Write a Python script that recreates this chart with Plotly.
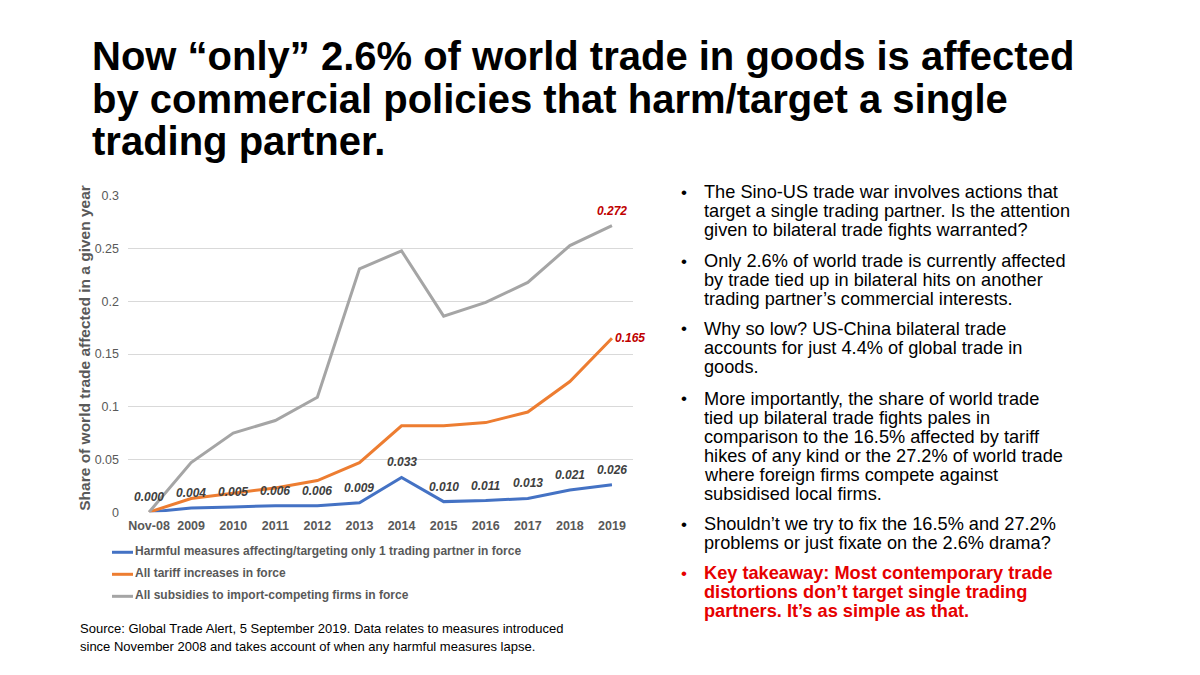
import plotly.graph_objects as go

categories = ["Nov-08", "2009", "2010", "2011", "2012", "2013", "2014", "2015", "2016", "2017", "2018", "2019"]
single_partner = [0.000, 0.004, 0.005, 0.006, 0.006, 0.009, 0.033, 0.010, 0.011, 0.013, 0.021, 0.026]
tariffs = [0.000, 0.013, 0.018, 0.023, 0.030, 0.047, 0.082, 0.082, 0.085, 0.095, 0.124, 0.165]
subsidies = [0.000, 0.047, 0.075, 0.087, 0.109, 0.231, 0.248, 0.186, 0.199, 0.218, 0.253, 0.272]
y_ticks = [0, 0.05, 0.1, 0.15, 0.2, 0.25, 0.3]
y_tick_labels = ["0", "0.05", "0.1", "0.15", "0.2", "0.25", "0.3"]
series_names = [
    "Harmful measures affecting/targeting only 1 trading partner in force",
    "All tariff increases in force",
    "All subsidies to import-competing firms in force",
]
series_colors = ["#4472C4", "#ED7D31", "#A5A5A5"]

title_lines = [
    "Now \u201conly\u201d 2.6% of world trade in goods is affected",
    "by commercial policies that harm/target a single",
    "trading partner.",
]
bullets = [
    ["The Sino-US trade war involves actions that",
     "target a single trading partner. Is the attention",
     "given to bilateral trade fights warranted?"],
    ["Only 2.6% of world trade is currently affected",
     "by trade tied up in bilateral hits on another",
     "trading partner\u2019s commercial interests."],
    ["Why so low? US-China bilateral trade",
     "accounts for just 4.4% of global trade in",
     "goods."],
    ["More importantly, the share of world trade",
     "tied up bilateral trade fights pales in",
     "comparison to the 16.5% affected by tariff",
     "hikes of any kind or the 27.2% of world trade",
     "where foreign firms compete against",
     "subsidised local firms."],
    ["Shouldn\u2019t we try to fix the 16.5% and 27.2%",
     "problems or just fixate on the 2.6% drama?"],
    ["Key takeaway: Most contemporary trade",
     "distortions don\u2019t target single trading",
     "partners. It\u2019s as simple as that."],
]
source_lines = [
    "Source: Global Trade Alert, 5 September 2019. Data relates to measures introduced",
    "since November 2008 and takes account of when any harmful measures lapse.",
]

# figure sized to fit inside the 1200x675 window with the page's 8px body margin
OFF = 8
W, H = 1184, 656
FONT = "Liberation Sans, Arial, sans-serif"


def px(x):
    return (x - OFF) / W


def py(y):
    return 1 - (y - OFF) / H


def ty(y, size):
    # visual centre of a text line -> annotation middle
    return py(y - 0.14 * size)


fig = go.Figure()
for name, vals, col in zip(series_names, [single_partner, tariffs, subsidies], series_colors):
    fig.add_trace(go.Scatter(x=categories, y=vals, mode="lines", name=name,
                             line=dict(color=col, width=3), showlegend=False,
                             hoverinfo="x+y"))

ann = []
# blue data labels
for i, v in enumerate(single_partner):
    ann.append(dict(x=i, y=v, xref="x", yref="y", text=f"<b><i>{v:.3f}</i></b>", showarrow=False,
                    yshift=15, font=dict(family=FONT, size=12, color="#404040"),
                    xanchor="center", yanchor="middle"))
n = len(categories) - 1
# red end labels
ann.append(dict(x=n, y=subsidies[-1], xref="x", yref="y",
                text=f"<b><i>{subsidies[-1]:.3f}</i></b>", showarrow=False, yshift=15,
                font=dict(family=FONT, size=12, color="#C00000"), xanchor="center", yanchor="middle"))
ann.append(dict(x=n, y=tariffs[-1], xref="x", yref="y",
                text=f"<b><i>{tariffs[-1]:.3f}</i></b>", showarrow=False, xshift=1, yshift=0,
                font=dict(family=FONT, size=12, color="#C00000"), xanchor="left", yanchor="middle"))

# y-axis title
ann.append(dict(x=px(85), y=py(348), xref="paper", yref="paper", textangle=-90,
                text="<b>Share of world trade affected in a given year</b>", showarrow=False,
                font=dict(family=FONT, size=15.5, color="#595959"), xanchor="center", yanchor="middle"))

# title
TS = 40
for i, yy in enumerate([56, 99, 142]):
    ann.append(dict(x=px(90), y=ty(yy, TS), xref="paper", yref="paper", text=f"<b>{title_lines[i]}</b>",
                    showarrow=False, font=dict(family=FONT, size=TS, color="#000000"),
                    xanchor="left", yanchor="middle"))

# legend (manual)
shapes = []
legend_y = [557, 579.5, 602]
for name, col, yy in zip(series_names, series_colors, legend_y):
    shapes.append(dict(type="line", xref="paper", yref="paper", x0=px(112), x1=px(133),
                       y0=py(yy), y1=py(yy), line=dict(color=col, width=3)))
    ann.append(dict(x=px(133), y=ty(yy, 12), xref="paper", yref="paper", text=f"<b>{name}</b>",
                    showarrow=False, font=dict(family=FONT, size=12, color="#595959"),
                    xanchor="left", yanchor="middle"))

# source
SS = 13.0
for i, t in enumerate(source_lines):
    ann.append(dict(x=px(78), y=ty(637 + 18.5 * i, SS), xref="paper", yref="paper", text=t,
                    showarrow=False, font=dict(family=FONT, size=SS, color="#000000"),
                    xanchor="left", yanchor="middle"))

# right bullets
BS = 18.2
LINE = 19.4
bullet_first_y = [191.7, 262.3, 331, 402.5, 531, 580.7]
for bi, (lines, y0) in enumerate(zip(bullets, bullet_first_y)):
    red = bi == len(bullets) - 1
    col = "#E60000" if red else "#000000"
    ann.append(dict(x=px(684), y=ty(y0, 17), xref="paper", yref="paper", text="\u2022",
                    showarrow=False, font=dict(family=FONT, size=17, color=col),
                    xanchor="center", yanchor="middle"))
    for li, t in enumerate(lines):
        txt = f"<b>{t}</b>" if red else t
        ann.append(dict(x=px(702), y=ty(y0 + LINE * li, BS), xref="paper", yref="paper", text=txt,
                        showarrow=False, font=dict(family=FONT, size=BS, color=col),
                        xanchor="left", yanchor="middle"))

fig.update_layout(
    width=W, height=H,
    margin=dict(l=0, r=0, t=0, b=0),
    paper_bgcolor="#FFFFFF", plot_bgcolor="#FFFFFF",
    xaxis=dict(domain=[px(128), px(633)], type="category", range=[-0.5, len(categories) - 0.5],
               showgrid=False, zeroline=False, showline=False, ticks="", ticklabelstandoff=4,
               tickfont=dict(family=FONT, size=12.5, color="#595959", weight="bold")),
    yaxis=dict(domain=[py(516), py(193)], range=[0, 0.3], tickvals=y_ticks, ticktext=y_tick_labels,
               showgrid=True, gridcolor="#D9D9D9", gridwidth=1, zeroline=False, showline=False,
               ticks="", ticklabelstandoff=8,
               tickfont=dict(family=FONT, size=12.5, color="#595959")),
    annotations=ann,
    shapes=shapes,
    hovermode="closest",
)

fig.write_html("out.html", config={"displayModeBar": False})
